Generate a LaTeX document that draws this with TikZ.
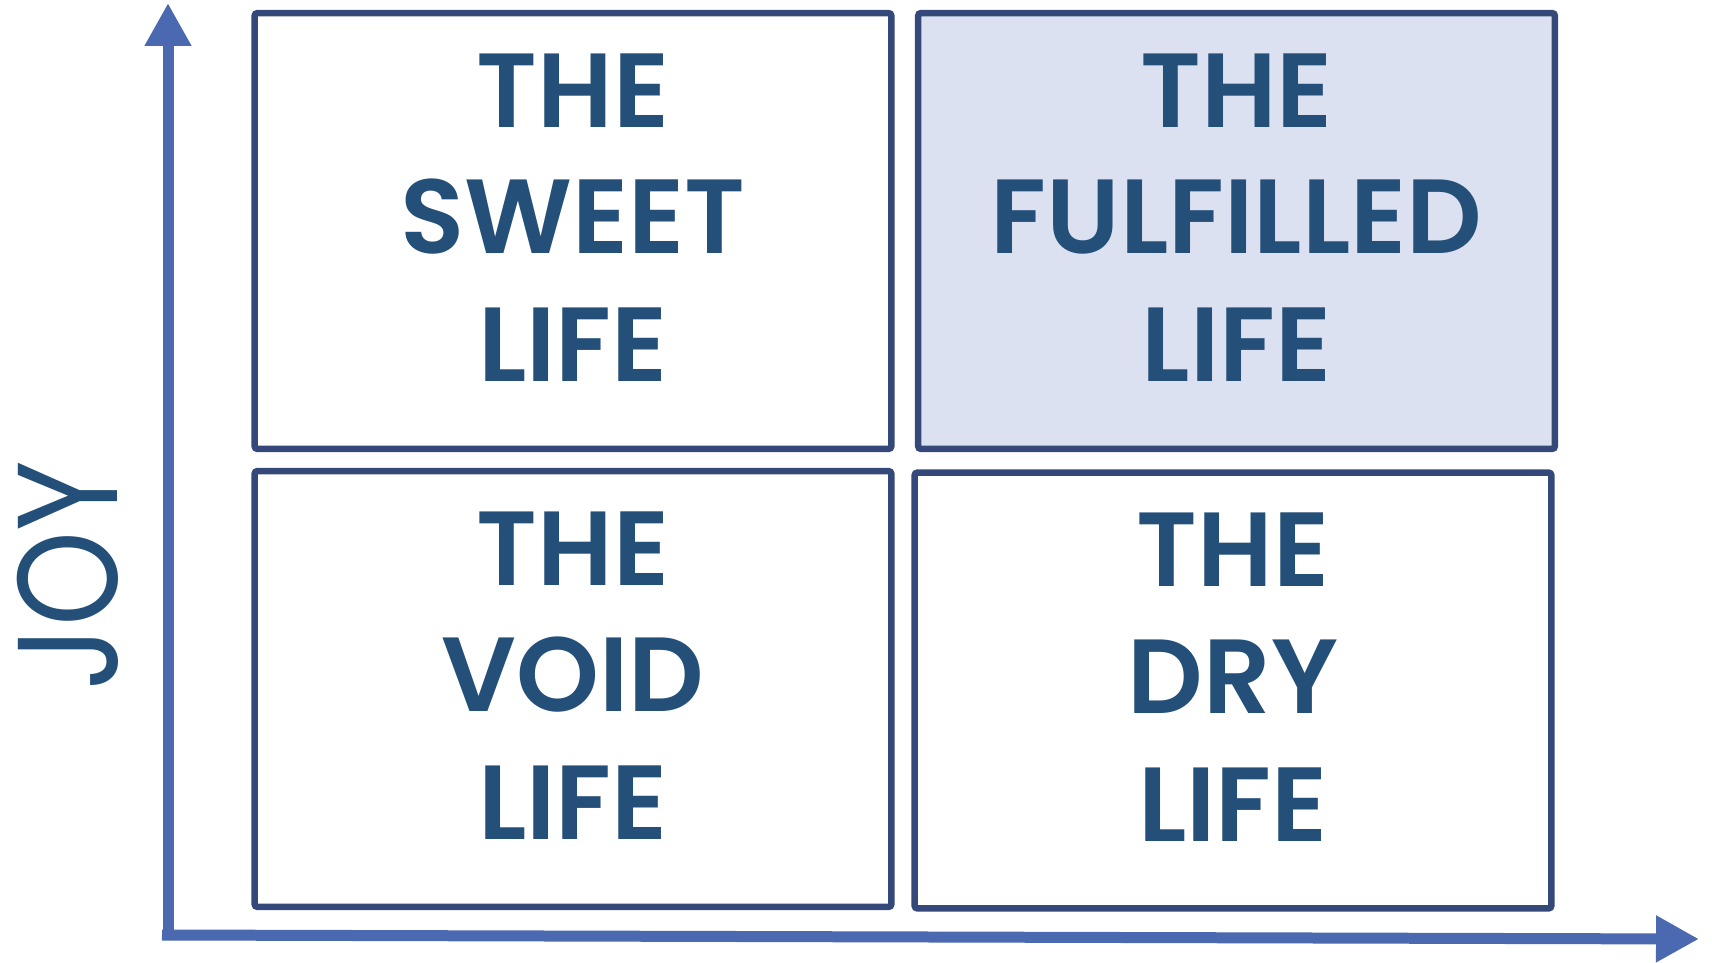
\documentclass[tikz,border=0pt]{standalone}
\usepackage{fontspec}
\setmainfont{Poppins}[BoldFont={Poppins SemiBold}]
\newfontfamily\joyfont{Poppins}[FakeStretch=0.85]
\usetikzlibrary{arrows.meta}

\definecolor{framecol}{HTML}{34497A}
\definecolor{wordcol}{HTML}{234F78}
\definecolor{axiscol}{HTML}{4A69B0}
\definecolor{fullcol}{HTML}{DCE1F1}

\tikzset{
  lifebox/.style={draw=framecol, line width=0.13cm, rounded corners=0.06cm,
    minimum width=12.74cm, minimum height=8.72cm, inner sep=0pt},
  lifetext/.style={text=wordcol, anchor=base, inner sep=0pt,
    font=\fontsize{60}{60}\selectfont\bfseries},
  axis/.style={axiscol, line width=0.22cm, -{Triangle[width=0.88cm,length=0.86cm]}}
}

\begin{document}
\begin{tikzpicture}[x=0.02cm, y=-0.02cm]
	\useasboundingbox (0,0) rectangle (1712,963);

	% the four quadrants
	\foreach \name/\cx/\cy/\word/\shade in {sweet/573/231/SWEET/white, fulfilled/1236.5/231/FULFILLED/fullcol, void/573/689/VOID/white, dry/1233/690.5/DRY/white}{
		\node[lifebox, fill=\shade] (\name) at (\cx,\cy) {};
		\node[lifetext] (\name-the) at ([yshift=2.08cm]\name.center) {THE};
		\node[lifetext] (\name-word) at ([yshift=-0.46cm]\name.center) {\word};
		\node[lifetext] (\name-life) at ([yshift=-3.02cm]\name.center) {LIFE};
	}

	% axes
	\coordinate (yfoot) at (168,940);
	\coordinate (ytip) at (168,3);
	\coordinate (xfoot) at (162,935);
	\coordinate (xtip) at (1699,939);
	\draw[axis] (yfoot) -- (ytip);
	\draw[axis] (xfoot) -- (xtip);

	\node[text=wordcol, rotate=90, inner sep=0pt, font=\joyfont\fontsize{81}{81}\selectfont] (joy) at (68,576) {JOY};
\end{tikzpicture}
\end{document}
